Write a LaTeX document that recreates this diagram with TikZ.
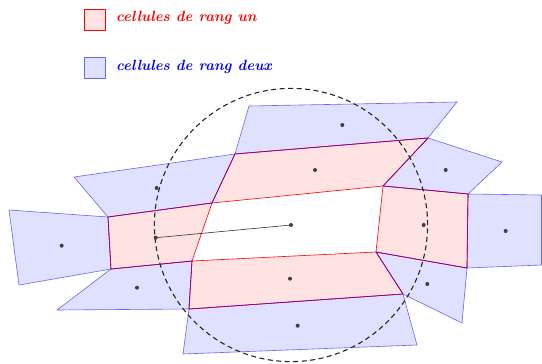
\documentclass[tikz,border=0pt]{standalone}
\begin{document}
\begin{tikzpicture}[x=1pt,y=-1pt,
  bluecell/.style={fill=blue!12,draw=blue!60,line width=0.6pt,line join=round},
  redcell/.style={fill=red!11,draw=red,line width=0.6pt,line join=round},
  ringedge/.style={draw={rgb,255:red,130;green,0;blue,150},line width=0.7pt,line join=round},
  gen/.style={fill=black!75},
  legendtext/.style={anchor=base west,inner sep=0pt,font=\fontsize{14.8}{17}\selectfont\bfseries\itshape}]
\useasboundingbox (0,0) rectangle (542,364);
% vertices
\coordinate (A) at (235,154);
\coordinate (B) at (428,138);
\coordinate (C) at (383,186);
\coordinate (D) at (212,203);
\coordinate (E) at (108,217);
\coordinate (F) at (192,261);
\coordinate (G) at (111,269);
\coordinate (H) at (376,252);
\coordinate (I) at (403,294);
\coordinate (J) at (189,309);
\coordinate (K) at (468,194);
\coordinate (L) at (467,268);
% blue cells
\path[bluecell] (A) -- (249,106) -- (457,102) -- (B) -- cycle;
\path[bluecell] (74,177) -- (A) -- (D) -- (E) -- cycle;
\path[bluecell] (9,210) -- (E) -- (G) -- (19,285) -- cycle;
\path[bluecell] (G) -- (F) -- (J) -- (57,310) -- cycle;
\path[bluecell] (J) -- (I) -- (417,345) -- (183,354) -- cycle;
\path[bluecell] (H) -- (L) -- (462,323) -- (I) -- cycle;
\path[bluecell] (K) -- (541.5,195) -- (541.5,265) -- (L) -- cycle;
\path[bluecell] (C) -- (B) -- (502,162) -- (K) -- cycle;
% red cells
\path[redcell] (A) -- (B) -- (C) -- (D) -- cycle;
\path[redcell] (E) -- (D) -- (F) -- (G) -- cycle;
\path[redcell] (F) -- (H) -- (I) -- (J) -- cycle;
\path[redcell] (C) -- (K) -- (L) -- (H) -- cycle;
% shared outer boundary of the ring
\draw[ringedge] (A) -- (B) -- (C) -- (K) -- (L) -- (H) -- (I) -- (J) -- (F) -- (G) -- (E) -- (D) -- cycle;
% radius and circle
\coordinate (O) at (291,225);
\coordinate (P) at (155.7,237.7);
\draw[black!80,line width=0.6pt] (P) -- (O);
\draw[black!85,line width=1.1pt,dash pattern=on 5pt off 3.5pt] (O) circle[x radius=136.6pt,y radius=136.6pt];
% generators
\foreach \p in {(O),(P),(342.3,125),(315,170),(445.7,170),(156.7,188),(61.7,245.7),(137,287.7),(505.7,231),(427.3,284),(290,278.7),(297.7,325.7),(423.7,225)}
  \fill[gen] \p circle[radius=2pt];
% legend
\path[redcell] (84.5,9.5) rectangle (105.5,30.5);
\path[bluecell] (84.5,57.5) rectangle (105.5,78.5);
\node[legendtext,text=red] (l1) at (116,21) {cellules de rang un};
\node[legendtext,text=blue] (l2) at (116,70.5) {cellules de rang deux};
\end{tikzpicture}
\end{document}
